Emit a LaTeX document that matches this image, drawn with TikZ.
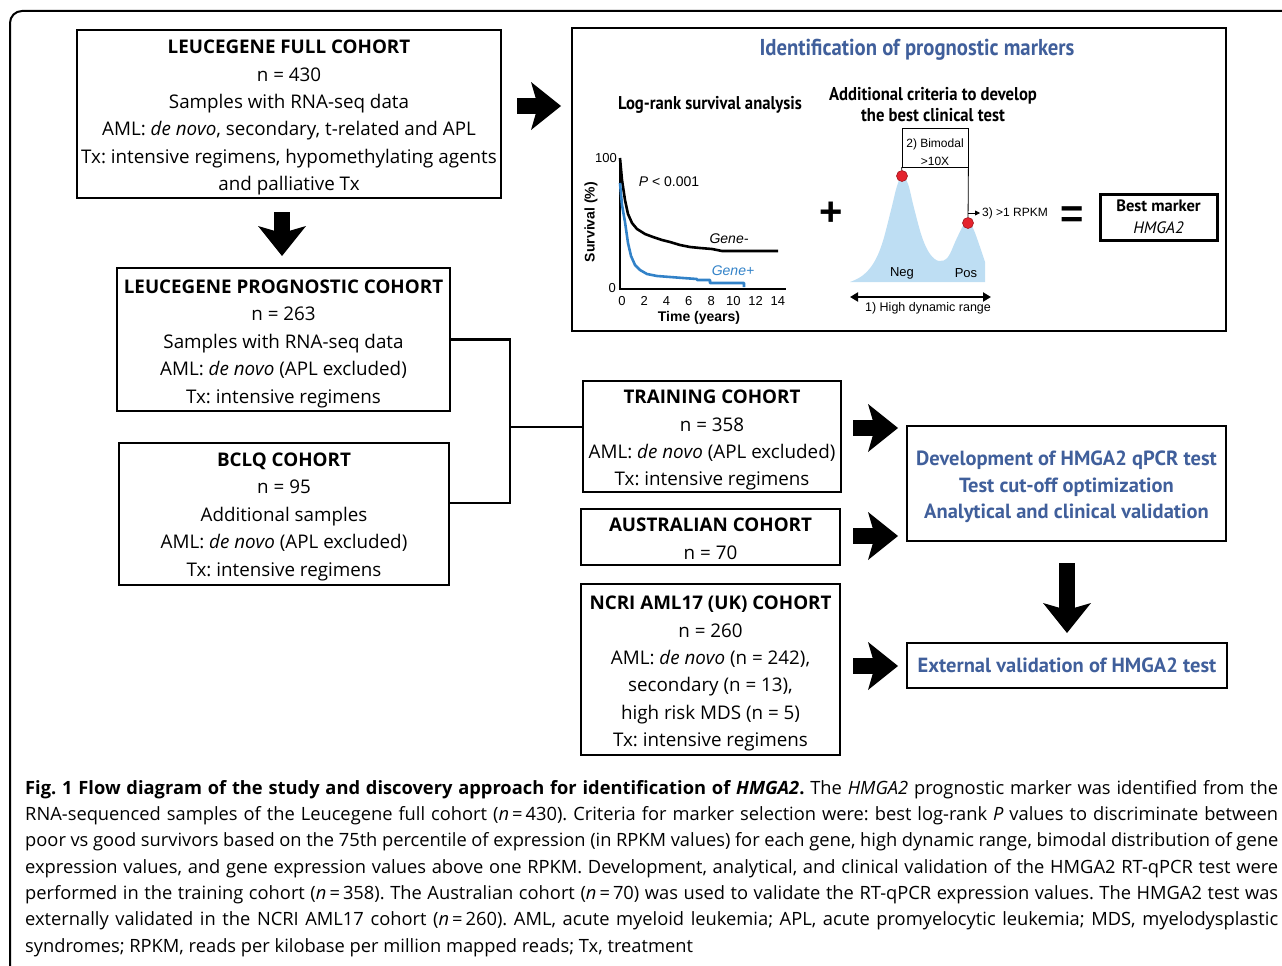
\documentclass[tikz,border=0pt]{standalone}
\usepackage{fontspec}
\setmainfont{Open Sans}
\newfontfamily\ptsans{PT Sans}
\newfontfamily\chartfont{Liberation Sans}
\newfontfamily\condfont[FakeStretch=0.9]{PT Sans}
\usetikzlibrary{arrows.meta}

\begin{document}
\frenchspacing
\begin{tikzpicture}[x=1pt,y=-1pt,
    cohort/.style={draw, line width=2.4pt, inner sep=0pt, align=center, font=\fontsize{18.8}{27.4}\selectfont},
    resultbox/.style={cohort, text=headblue, font=\ptsans\fontsize{20.5}{26.5}\selectfont\bfseries},
    link/.style={line width=2.4pt},
    fatarrow/.style={line width=16pt, -{Stealth[length=30pt, width=48pt, inset=7pt, line width=0pt]}},
    chart/.style={inner sep=0pt, font=\chartfont\fontsize{13}{15}\selectfont},
    chartbold/.style={inner sep=0pt, font=\chartfont\bfseries\fontsize{14}{16}\selectfont},
    heading/.style={inner sep=0pt, align=center, font=\condfont\bfseries\fontsize{18.5}{21}\selectfont},
    reddot/.style={circle, fill=dotred, draw=dotred!70!black, line width=0.6pt, minimum size=11pt, inner sep=0pt}]

    % Defining colours
    \definecolor{headblue}{RGB}{64,95,155}%
    \definecolor{curveblue}{RGB}{50,130,200}%
    \definecolor{distfill}{RGB}{190,222,243}%
    \definecolor{dotred}{RGB}{228,35,45}%

    \useasboundingbox (0,0) rectangle (1282,966);

    % Drawing outer frame
    \draw [line width=2pt, rounded corners=12pt] (10,11) rectangle (1300,990);%

    % Drawing cohort boxes (the rule lowers the first line a little)
    \node [cohort, minimum width=424pt, minimum height=168pt] (full) at (289,114)
        {\rule{0pt}{21pt}\textbf{LEUCEGENE FULL COHORT}\\n = 430\\Samples with RNA-seq data\\AML: \textit{de novo}, secondary, t-related and APL\\Tx: intensive regimens, hypomethylating agents\\and palliative Tx};%
    \node [cohort, minimum width=333pt, minimum height=143pt] (prog) at (283.5,339.5)
        {\rule{0pt}{22pt}\textbf{LEUCEGENE PROGNOSTIC COHORT}\\n = 263\\Samples with RNA-seq data\\AML: \textit{de novo} (APL excluded)\\Tx: intensive regimens};%
    \node [cohort, minimum width=330pt, minimum height=142pt] (bclq) at (284,514)
        {\rule{0pt}{19pt}\textbf{BCLQ COHORT}\\n = 95\\Additional samples\\AML: \textit{de novo} (APL excluded)\\Tx: intensive regimens};%
    \node [cohort, minimum width=258pt, minimum height=111pt] (train) at (712,436.5)
        {\rule{0pt}{21pt}\textbf{TRAINING COHORT}\\n = 358\\AML: \textit{de novo} (APL excluded)\\Tx: intensive regimens};%
    \node [cohort, minimum width=259pt, minimum height=56pt] (austr) at (710.5,537)
        {\rule{0pt}{17pt}\textbf{AUSTRALIAN COHORT}\\n = 70};%
    \node [cohort, minimum width=259pt, minimum height=171pt] (ncri) at (710.5,669.5)
        {\rule{0pt}{22pt}\textbf{NCRI AML17 (UK) COHORT}\\n = 260\\AML: \textit{de novo} (n = 242),\\secondary (n = 13),\\high risk MDS (n = 5)\\Tx: intensive regimens};%

    % Drawing result boxes
    \node [resultbox, minimum width=319pt, minimum height=115pt] (dev) at (1066.5,483.5)
        {\rule{0pt}{22pt}Development of HMGA2 qPCR test\\Test cut-off optimization\\Analytical and clinical validation};%
    \node [resultbox, minimum width=320pt, minimum height=45pt] (ext) at (1067,665.5)
        {External validation of HMGA2 test};%

    % Drawing bracket between cohorts
    \coordinate (joint) at (510,427);%
    \draw [link] (prog.east) -| (joint) |- ([yshift=11pt]bclq.east);%
    \draw [link] (joint) -- (joint -| train.west);%

    % Drawing block arrows
    \coordinate (fullright-s) at (517,106);%
    \coordinate (fullright-e) at (561,106);%
    \coordinate (fulldown-s) at (282,212);%
    \coordinate (fulldown-e) at (282,256);%
    \coordinate (trainarrow-s) at (853,428);%
    \coordinate (trainarrow-e) at (898,428);%
    \coordinate (austrarrow-s) at (853,536);%
    \coordinate (austrarrow-e) at (898,536);%
    \coordinate (ncriarrow-s) at (853,666);%
    \coordinate (ncriarrow-e) at (898,666);%
    \coordinate (devdown-s) at (1067,563);%
    \coordinate (devdown-e) at (1067,633);%
    \draw [fatarrow] (fullright-s) -- (fullright-e);%
    \draw [fatarrow] (fulldown-s) -- (fulldown-e);%
    \draw [fatarrow] (trainarrow-s) -- (trainarrow-e);%
    \draw [fatarrow] (austrarrow-s) -- (austrarrow-e);%
    \draw [fatarrow] (ncriarrow-s) -- (ncriarrow-e);%
    \draw [fatarrow] (devdown-s) -- (devdown-e);%

    % Drawing identification panel
    \node [draw, line width=2.4pt, minimum width=654pt, minimum height=303pt, inner sep=0pt] (idpanel) at (899,179.5) {};%
    \node [heading, text=headblue, font=\condfont\bfseries\fontsize{23}{26}\selectfont] (idtitle) at (917,50) {Identification of prognostic markers};%
    \node [heading] (logrank) at (710,105) {Log-rank survival analysis};%
    \node [heading] (criteria) at (933,104.5) {Additional criteria to develop\\[0pt]the best clinical test};%

    % Drawing survival chart
    \draw [line width=1.8pt] (620,158) -- (620,289) -- (786,289);%
    \foreach \t in {0,2,...,14} {
        \node [chart] (tick\t) at ({622+11.14*\t},301) {\t};%
    }
    \node [chart, anchor=east] (yhundred) at (617,158) {100};%
    \node [chart, anchor=east] (yzero) at (616,288) {0};%
    \node [chartbold, rotate=90] (ylabel) at (591,222) {Survival (\%)};%
    \node [chartbold] (xlabel) at (699,318) {Time (years)};%
    \node [chart, font=\chartfont\fontsize{14}{16}\selectfont] (pval) at (669,182) {\textit{P} < 0.001};%
    \draw [line width=2.6pt, line join=round] (620,158) -- (622,180) -- (625,200) -- (628,214) -- (632,223)
        -- (637,229) -- (645,234) -- (653,237) -- (662,240) -- (670,242) -- (680,245) -- (690,247)
        -- (700,248) -- (712,249) -- (722,251) -- (778,251);%
    \draw [line width=2.6pt, line join=round, curveblue] (620,183) -- (622,205) -- (625,222) -- (628,243)
        -- (631,256) -- (635,265) -- (640,270) -- (647,274) -- (657,276) -- (670,277) -- (683,278)
        -- (697,279) -- (697,280) -- (710,280) -- (710,283) -- (744,283) -- (744,287);%
    \node [chart, font=\chartfont\itshape\fontsize{14}{16}\selectfont] (geneneg) at (729,239) {Gene-};%
    \node [chart, font=\chartfont\itshape\fontsize{14}{16}\selectfont, text=curveblue] (genepos) at (733,271) {Gene+};%

    % Drawing plus and equal signs
    \node [chart, font=\chartfont\bfseries\fontsize{40}{40}\selectfont] (plus) at (831,214) {+};%
    \node [chart, font=\chartfont\bfseries\fontsize{40}{40}\selectfont] (equal) at (1072,217) {=};%

    % Drawing bimodal distribution
    \fill [distfill] plot [smooth, tension=0.6] coordinates {(850,282) (862,276) (873,264) (882,244)
        (891,210) (897,186) (902,176) (908,184) (914,208) (922,237) (930,254) (939,261) (948,257)
        (956,240) (963,226) (968,222) (973,228) (980,247) (985,262)} -- (985,282) -- cycle;%
    \node [draw, line width=0.8pt, minimum width=66pt, minimum height=39pt, inner sep=0pt] (bimodal) at (935,147.5) {};%
    \node [chart, align=center, font=\chartfont\fontsize{12}{18}\selectfont] (bimodaltext) at (935,152) {2) Bimodal\\>10X};%
    \node [reddot] (negpeak) at (902,176) {};%
    \node [reddot] (pospeak) at (968,223) {};%
    \draw [line width=0.8pt] (bimodal.south west) -- (negpeak);%
    \draw [line width=0.8pt] (bimodal.south east) -- (pospeak);%
    \coordinate (rpkmfoot) at (968,213);%
    \node [chart, anchor=west, font=\chartfont\fontsize{12}{14}\selectfont] (rpkm) at (982,213) {3) >1 RPKM};%
    \draw [line width=0.8pt, -{Triangle[length=5pt, width=5pt]}, shorten >=2pt] (rpkmfoot) -- (rpkm.west);%
    \node [chart] (neg) at (902,273) {Neg};%
    \node [chart] (pos) at (966,273) {Pos};%
    \coordinate (range-w) at (850,297);%
    \coordinate (range-e) at (991,297);%
    \draw [line width=2.4pt, {Triangle[length=8pt, width=9pt]}-{Triangle[length=8pt, width=9pt]}] (range-w) -- (range-e);%
    \node [chart, font=\chartfont\fontsize{12.5}{14}\selectfont] (range) at (928,308) {1) High dynamic range};%

    % Drawing best marker box
    \node [draw, line width=3pt, minimum width=117pt, minimum height=46pt, inner sep=0pt, align=center,
        font=\ptsans\fontsize{16.5}{22}\selectfont] (best) at (1158.5,217) {\textbf{Best marker}\\\textit{HMGA2}};%

    % Drawing caption
    \node [anchor=north west, text width=1253pt, inner sep=0pt, align=justify,
        font=\fontsize{18.3}{26.3}\selectfont] (caption) at (25,780)
        {\textbf{Fig. 1 Flow diagram of the study and discovery approach for identification of \textit{HMGA2}.} The \textit{HMGA2} prognostic marker was identified from the\linebreak
        RNA-sequenced samples of the Leucegene full cohort (\textit{n}\,=\,430). Criteria for marker selection were: best log-rank \textit{P} values to discriminate between\linebreak
        poor vs good survivors based on the 75th percentile of expression (in RPKM values) for each gene, high dynamic range, bimodal distribution of gene\linebreak
        expression values, and gene expression values above one RPKM. Development, analytical, and clinical validation of the HMGA2 RT-qPCR test were\linebreak
        performed in the training cohort (\textit{n}\,=\,358). The Australian cohort (\textit{n}\,=\,70) was used to validate the RT-qPCR expression values. The HMGA2 test was\linebreak
        externally validated in the NCRI AML17 cohort (\textit{n}\,=\,260). AML, acute myeloid leukemia; APL, acute promyelocytic leukemia; MDS, myelodysplastic\linebreak
        syndromes; RPKM, reads per kilobase per million mapped reads; Tx, treatment};%
\end{tikzpicture}
\end{document}
